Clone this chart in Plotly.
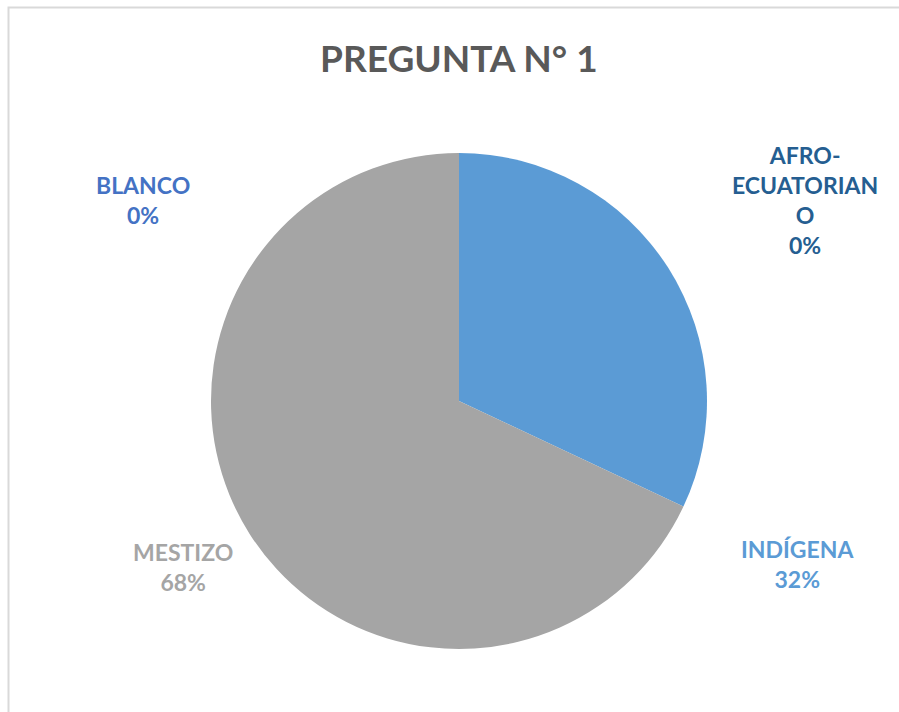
import plotly.graph_objects as go

categories = ["INDÍGENA", "MESTIZO", "BLANCO", "AFRO-ECUATORIANO"]
values = [32, 68, 0, 0]
title_text = "PREGUNTA N° 1"

slice_colors = ["#5B9BD5", "#A5A5A5", "#4472C4", "#255E91"]
label_wrapped = {"AFRO-ECUATORIANO": "AFRO-<br>ECUATORIAN<br>O"}
label_pos = {
    "INDÍGENA": (0.8866, 0.208),
    "MESTIZO": (0.2036, 0.204),
    "BLANCO": (0.159, 0.719),
    "AFRO-ECUATORIANO": (0.8954, 0.719),
}

W, H = 899, 712
cx, cy, r = 459, 401, 248

fig = go.Figure(go.Pie(
    labels=categories,
    values=values,
    sort=False,
    direction="clockwise",
    rotation=0,
    marker=dict(colors=slice_colors, line=dict(color="white", width=0)),
    textinfo="none",
    hoverinfo="label+percent",
    showlegend=False,
    domain=dict(x=[(cx - r) / W, (cx + r) / W], y=[1 - (cy + r) / H, 1 - (cy - r) / H]),
))

total = sum(values)
annotations = []
for cat, val, col in zip(categories, values, slice_colors):
    name = label_wrapped.get(cat, cat)
    pct = round(100 * val / total)
    x, y = label_pos[cat]
    annotations.append(dict(
        x=x, y=y, xref="paper", yref="paper", xanchor="center", yanchor="middle",
        text=f"<b>{name}<br>{pct}%</b>", showarrow=False, align="center",
        font=dict(family="Lato, 'Open Sans', sans-serif", size=23, color=col),
    ))

annotations.append(dict(
    x=cx / W, y=1 - 57 / H, xref="paper", yref="paper", xanchor="center", yanchor="middle",
    text=f"<b>{title_text}</b>", showarrow=False,
    font=dict(family="Lato, 'Open Sans', sans-serif", size=37, color="#595959"),
))

fig.update_layout(
    width=W, height=H,
    margin=dict(l=0, r=0, t=0, b=0),
    paper_bgcolor="white",
    plot_bgcolor="white",
    annotations=annotations,
    shapes=[dict(type="rect", xref="paper", yref="paper",
                 x0=8.5 / W, y0=-0.05, x1=1.05, y1=1 - 7.5 / H,
                 line=dict(color="#D9D9D9", width=2), fillcolor="rgba(0,0,0,0)")],
)

fig.write_html(
    "out.html",
    config={"displayModeBar": False},
    post_script="document.body.style.margin='0';document.body.style.overflow='hidden';",
)
